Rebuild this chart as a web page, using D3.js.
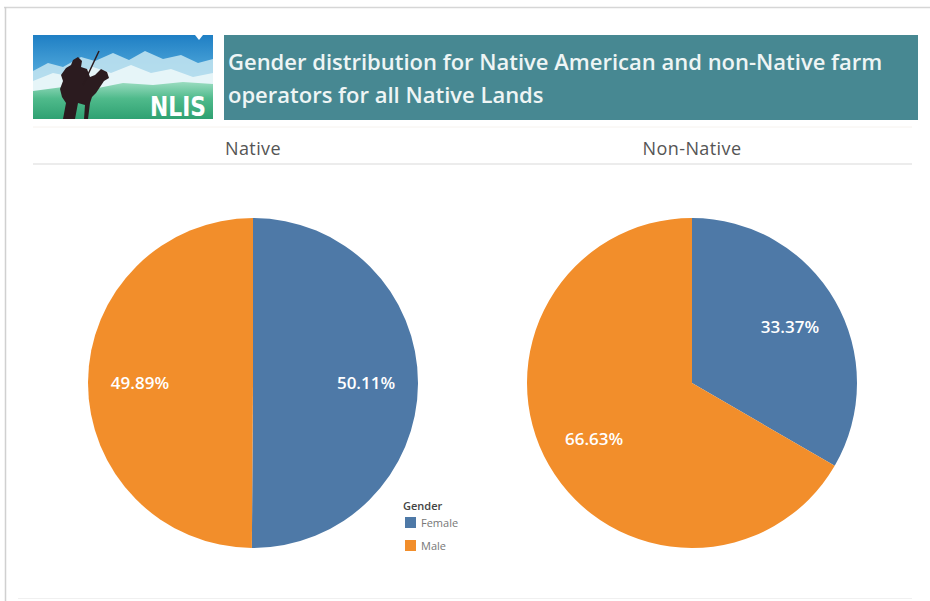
<!DOCTYPE html>
<html>
<head>
<meta charset="utf-8">
<script src="https://cdn.jsdelivr.net/npm/d3@7"></script>
<style>
  html, body { margin: 0; padding: 0; background: #ffffff; }
  svg { display: block; }
</style>
</head>
<body>
<svg id="chart" width="930" height="601"></svg>
<script>
// Share of farm operators by gender, per group
const groups = ["Native", "Non-Native"];
const genders = ["Female", "Male"];
const nativeShares = [50.11, 49.89];
const nonNativeShares = [33.37, 66.63];
const titleLines = [
  "Gender distribution for Native American and non-Native farm",
  "operators for all Native Lands"
];
const legendTitle = "Gender";

const W = 930, H = 601;
const svg = d3.select("#chart");
const font = "'Open Sans', 'Noto Sans', sans-serif";

// dashboard frame
svg.append("line").attr("x1", 4).attr("x2", W).attr("y1", 7.5).attr("y2", 7.5)
  .attr("stroke", "#d6d6d6").attr("stroke-width", 1.5);
svg.append("line").attr("x1", 5.5).attr("x2", 5.5).attr("y1", 7).attr("y2", H)
  .attr("stroke", "#d0d0d0").attr("stroke-width", 1.5);
svg.append("line").attr("x1", 18).attr("x2", 912).attr("y1", 598.5).attr("y2", 598.5)
  .attr("stroke", "#f0f0f0").attr("stroke-width", 1);

// ---- logo panel ----
const logo = svg.append("g").attr("transform", "translate(33,35)");
const defs = svg.append("defs");
const sky = defs.append("linearGradient").attr("id", "sky").attr("x1", 0).attr("x2", 0).attr("y1", 0).attr("y2", 1);
sky.append("stop").attr("offset", "0%").attr("stop-color", "#1f7fc4");
sky.append("stop").attr("offset", "40%").attr("stop-color", "#4aa3d8");
sky.append("stop").attr("offset", "100%").attr("stop-color", "#a9d8ea");
const ground = defs.append("linearGradient").attr("id", "ground").attr("x1", 0).attr("x2", 0).attr("y1", 0).attr("y2", 1);
ground.append("stop").attr("offset", "0%").attr("stop-color", "#9adcc0");
ground.append("stop").attr("offset", "45%").attr("stop-color", "#4fba8b");
ground.append("stop").attr("offset", "100%").attr("stop-color", "#2fa172");
defs.append("clipPath").attr("id", "logoClip").append("rect").attr("width", 180).attr("height", 84);

const lg = logo.append("g").attr("clip-path", "url(#logoClip)");
lg.append("rect").attr("width", 180).attr("height", 84).attr("fill", "url(#sky)");
// distant mountains
lg.append("path")
  .attr("d", "M0,36 L15,28 L30,32 L48,22 L62,26 L80,18 L96,25 L112,16 L130,24 L148,20 L165,28 L180,24 L180,84 L0,84 Z")
  .attr("fill", "#bfe2ef").attr("opacity", 0.9);
lg.append("path")
  .attr("d", "M0,46 L20,38 L40,42 L60,32 L78,38 L98,30 L118,38 L138,34 L160,42 L180,38 L180,84 L0,84 Z")
  .attr("fill", "#e6f5f8");
lg.append("path")
  .attr("d", "M0,56 L30,52 L60,54 L90,48 L120,50 L150,47 L180,49 L180,84 L0,84 Z")
  .attr("fill", "url(#ground)");
// rider silhouette
lg.append("path")
  .attr("d", "M30,84 L33,68 L29,62 L27,54 L30,46 L28,40 L33,33 L38,30 L40,25 L45,22 L49,26 L48,32 L54,34 L57,42 L62,40 L68,34 L74,37 L76,43 L71,46 L67,52 L63,58 L59,62 L57,68 L55,84 L51,84 L52,70 L45,68 L42,84 Z")
  .attr("fill", "#2b1b1f");
lg.append("line").attr("x1", 50).attr("y1", 50).attr("x2", 66).attr("y2", 16)
  .attr("stroke", "#2b1b1f").attr("stroke-width", 1.5);
// acronym
lg.append("text").attr("x", 117).attr("y", 81)
  .attr("font-family", "'DejaVu Sans', sans-serif").attr("font-weight", "bold")
  .attr("font-size", 27).attr("fill", "#ffffff")
  .attr("textLength", 56).attr("lengthAdjust", "spacingAndGlyphs").text("NLIS");
// small notch at top right
logo.append("path").attr("d", "M162,0 L170,0 L166,5 Z").attr("fill", "#ffffff");

// ---- title banner ----
svg.append("rect").attr("x", 224).attr("y", 35).attr("width", 694).attr("height", 85)
  .attr("fill", "#478892");
svg.append("g").selectAll("text").data(titleLines).join("text")
  .attr("x", 228).attr("y", (d, i) => 70 + i * 33)
  .attr("font-family", font).attr("font-size", 22).attr("font-weight", 600)
  .attr("fill", "#eef5f5").text(d => d);

// ---- column headers ----
const centers = [253, 692];
svg.append("line").attr("x1", 33).attr("x2", 912).attr("y1", 127).attr("y2", 127)
  .attr("stroke", "#f6f2ee").attr("stroke-width", 1);
svg.append("g").selectAll("text").data(groups).join("text")
  .attr("x", (d, i) => centers[i]).attr("y", 155)
  .attr("text-anchor", "middle").attr("font-family", font).attr("font-size", 18)
  .attr("letter-spacing", 0.4).attr("fill", "#555555").text(d => d);
svg.append("line").attr("x1", 33).attr("x2", 912).attr("y1", 164).attr("y2", 164)
  .attr("stroke", "#ececec").attr("stroke-width", 2);

// ---- pies ----
const color = d3.scaleOrdinal().domain(genders).range(["#4e79a7", "#f28e2b"]);
const radius = 165;
const cy = 383;
const pie = d3.pie().sort(null).value(d => d.value);
const arc = d3.arc().innerRadius(0).outerRadius(radius);
const labelArc = d3.arc().innerRadius(radius * 0.685).outerRadius(radius * 0.685);

[nativeShares, nonNativeShares].forEach((vals, gi) => {
  const data = genders.map((g, i) => ({ gender: g, value: vals[i] }));
  const g = svg.append("g").attr("transform", `translate(${centers[gi]},${cy})`);
  const slices = pie(data);
  g.selectAll("path").data(slices).join("path")
    .attr("d", arc).attr("fill", d => color(d.data.gender));
  g.selectAll("text").data(slices).join("text")
    .attr("transform", d => `translate(${labelArc.centroid(d)})`)
    .attr("text-anchor", "middle").attr("dy", "0.35em")
    .attr("font-family", font).attr("font-size", 17).attr("font-weight", 600)
    .attr("fill", "#ffffff").text(d => d3.format(".2f")(d.data.value) + "%");
});

// ---- legend ----
const legend = svg.append("g").attr("transform", "translate(403,500)");
legend.append("text").attr("x", 0).attr("y", 10)
  .attr("font-family", font).attr("font-size", 11).attr("font-weight", 600)
  .attr("fill", "#444444").text(legendTitle);
const items = legend.selectAll("g.item").data(genders).join("g")
  .attr("class", "item").attr("transform", (d, i) => `translate(2,${17 + i * 23})`);
items.append("rect").attr("width", 11).attr("height", 11).attr("fill", d => color(d));
items.append("text").attr("x", 16).attr("y", 9.5)
  .attr("font-family", font).attr("font-size", 11).attr("fill", "#777777").text(d => d);
</script>
</body>
</html>
